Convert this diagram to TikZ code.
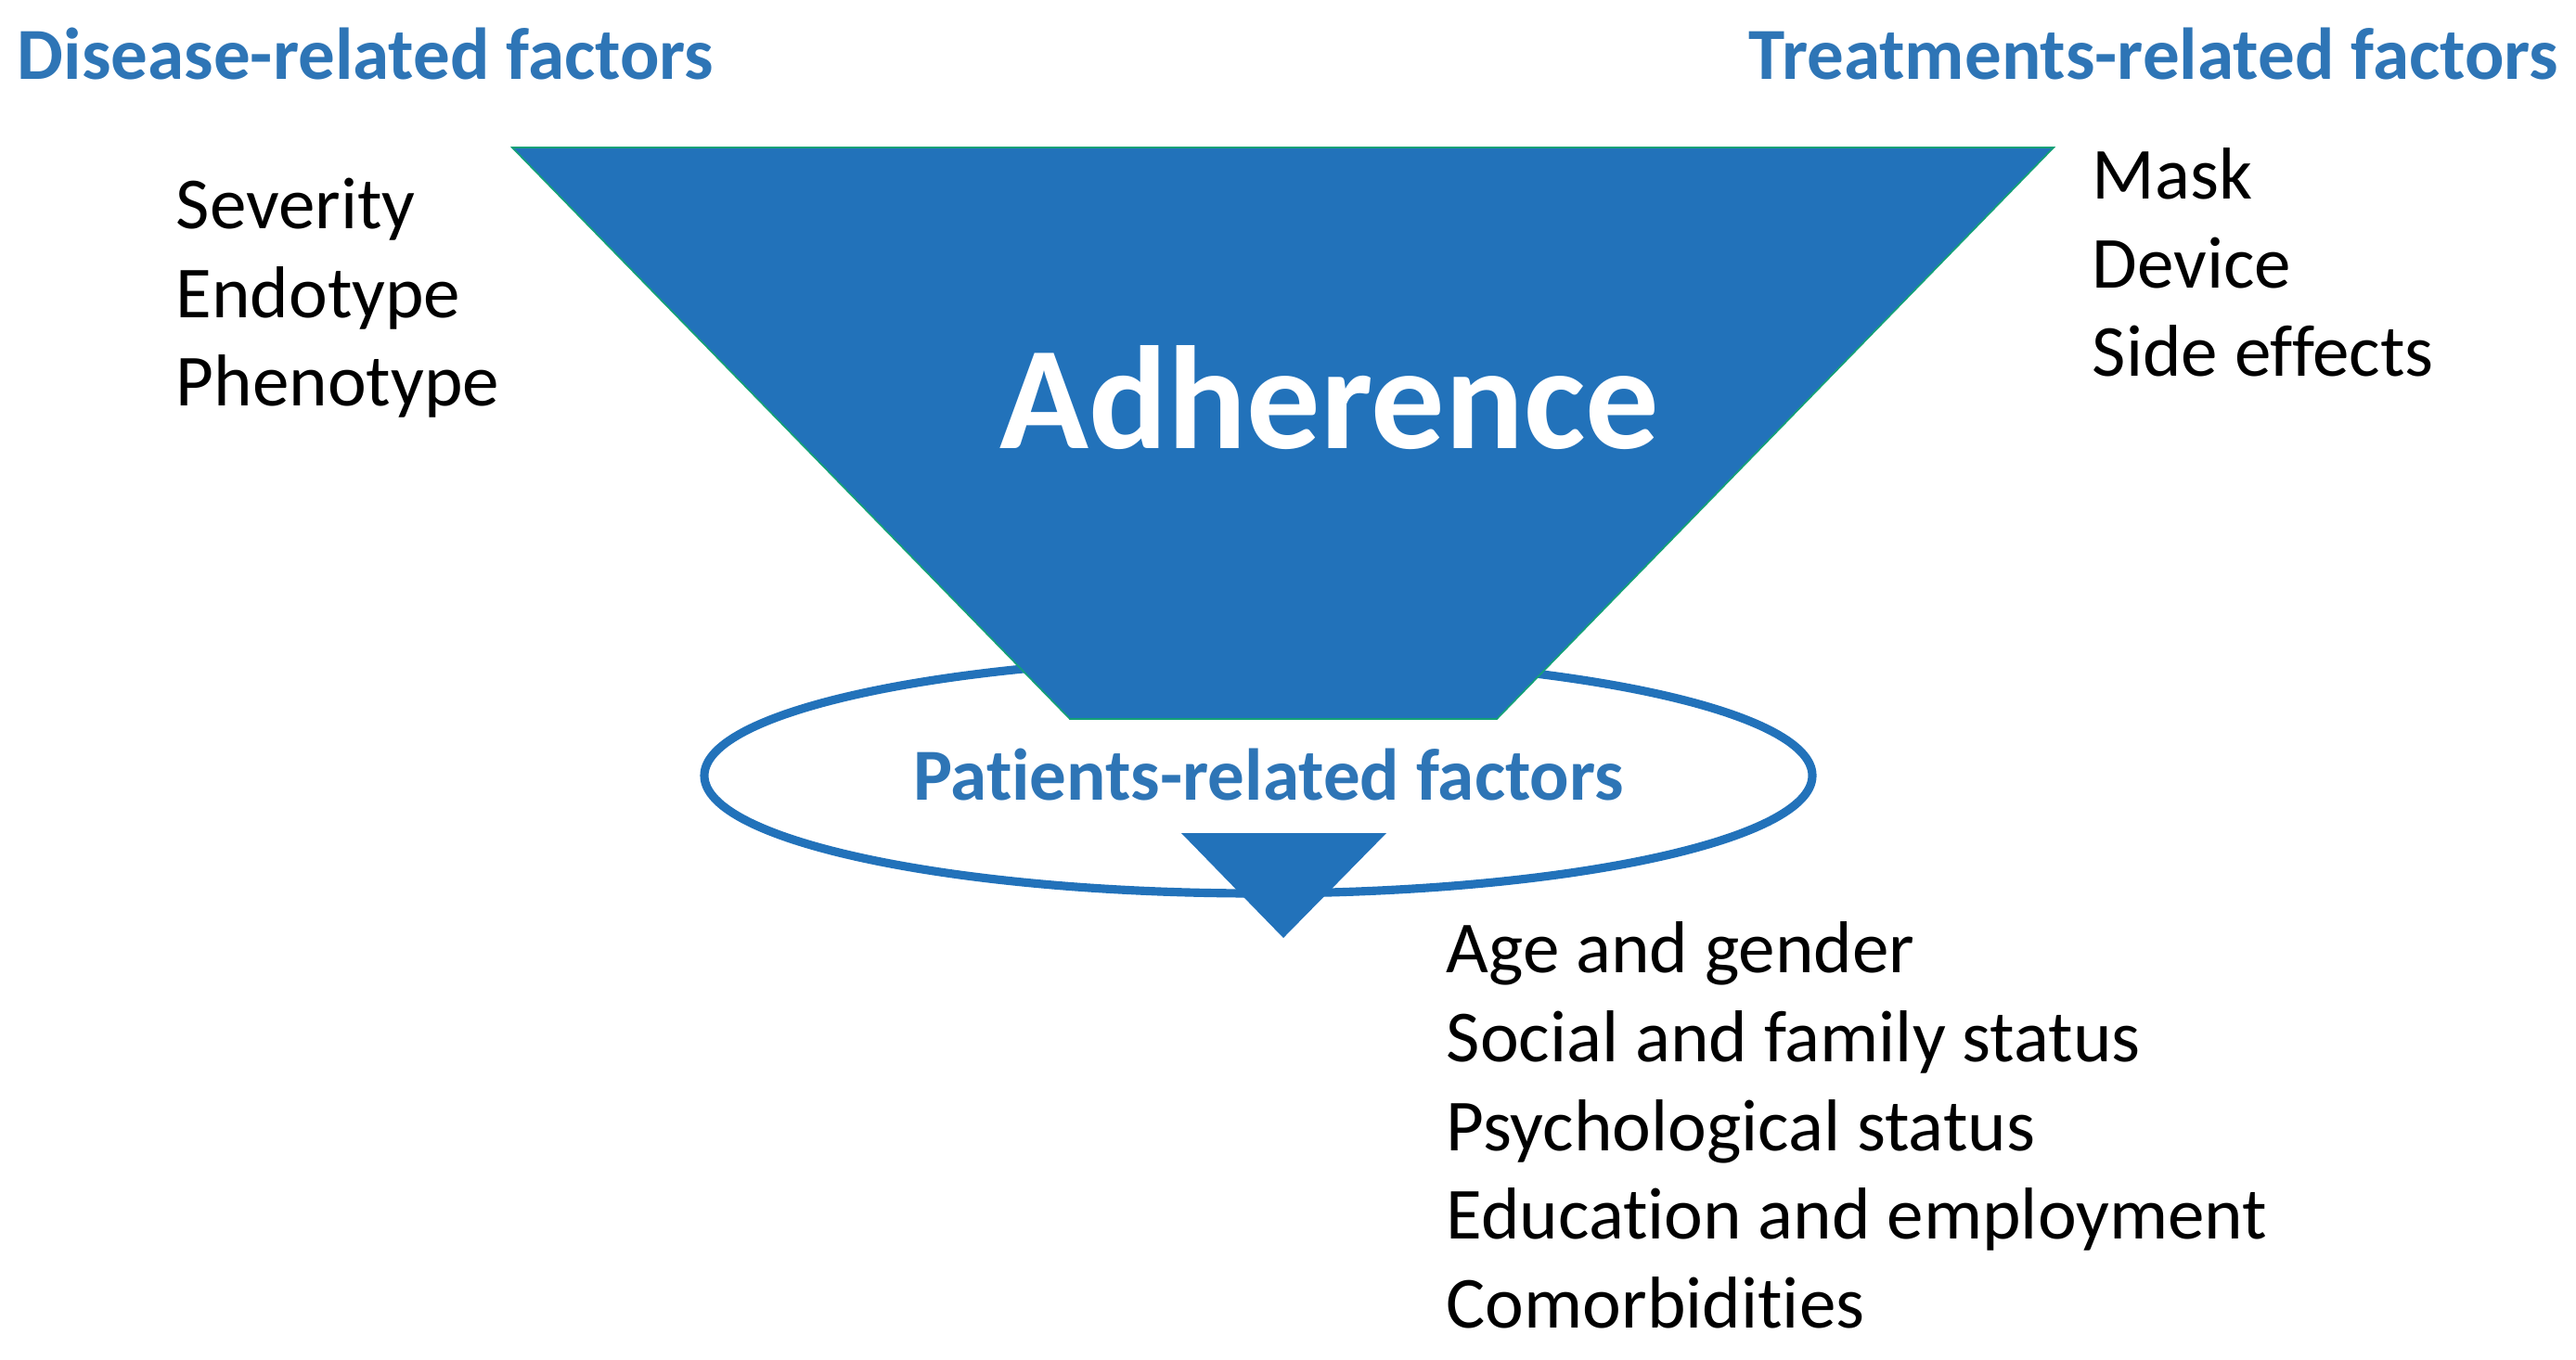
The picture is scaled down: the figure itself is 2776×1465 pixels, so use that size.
\documentclass[tikz,border=0pt]{standalone}
\usepackage{fontspec}
\setmainfont[Ligatures=NoCommon]{Carlito}
\definecolor{funnelblue}{RGB}{34,114,186}
\definecolor{headblue}{RGB}{46,117,182}
\definecolor{edgeteal}{RGB}{20,160,120}
\tikzset{
  head/.style={font=\fontsize{22.5}{26}\selectfont\bfseries, text=headblue, inner sep=0pt},
  item/.style={font=\fontsize{22.5}{26}\selectfont, text=black, inner sep=0pt, anchor=base west},
  funnel/.style={fill=funnelblue, draw=edgeteal, line width=0.5pt},
}
\begin{document}
\begin{tikzpicture}[x=0.01cm,y=-0.01cm]
\useasboundingbox (0,0) rectangle (2776,1465);
% ellipse fill
\path[fill=white] (1356,836) ellipse [x radius=597, y radius=127];
% tip
\path[fill=funnelblue] (1273,898) coordinate (sl) -- (1494,898) coordinate (sr) -- (1383,1011) coordinate (apex) -- cycle;
% ellipse outline
\draw[funnelblue, line width=2.6pt] (1356,836) ellipse [x radius=597, y radius=127];
% funnel body
\path[funnel] (552,159) coordinate (tl) -- (2213,159) coordinate (tr) -- (1613,775) coordinate (br) -- (1153,775) coordinate (bl) -- cycle;
% texts
\node[head, anchor=base west] (dis) at (18,85) {Disease-related factors};
\node[head, anchor=base east] (treat) at (2758,85) {Treatments-related factors};
\node[head, anchor=base] (pat) at (1367,862) {Patients-related factors};
\node[font=\fontsize{45}{50}\selectfont\bfseries, text=white, anchor=base, inner sep=0pt] (adh) at (1433,483) {Adherence};
\node[item] (sev) at (189,246) {Severity};
\node[item] (endo) at (189,342) {Endotype};
\node[item] (pheno) at (189,437) {Phenotype};
\node[item] (mask) at (2254,214) {Mask};
\node[item] (dev) at (2254,310) {Device};
\node[item] (side) at (2254,405) {Side effects};
\node[item] (age) at (1558,1048) {Age and gender};
\node[item] (soc) at (1558,1144) {Social and family status};
\node[item] (psy) at (1558,1240) {Psychological status};
\node[item] (edu) at (1558,1335) {Education and employment};
\node[item] (com) at (1558,1431) {Comorbidities};
\end{tikzpicture}
\end{document}
